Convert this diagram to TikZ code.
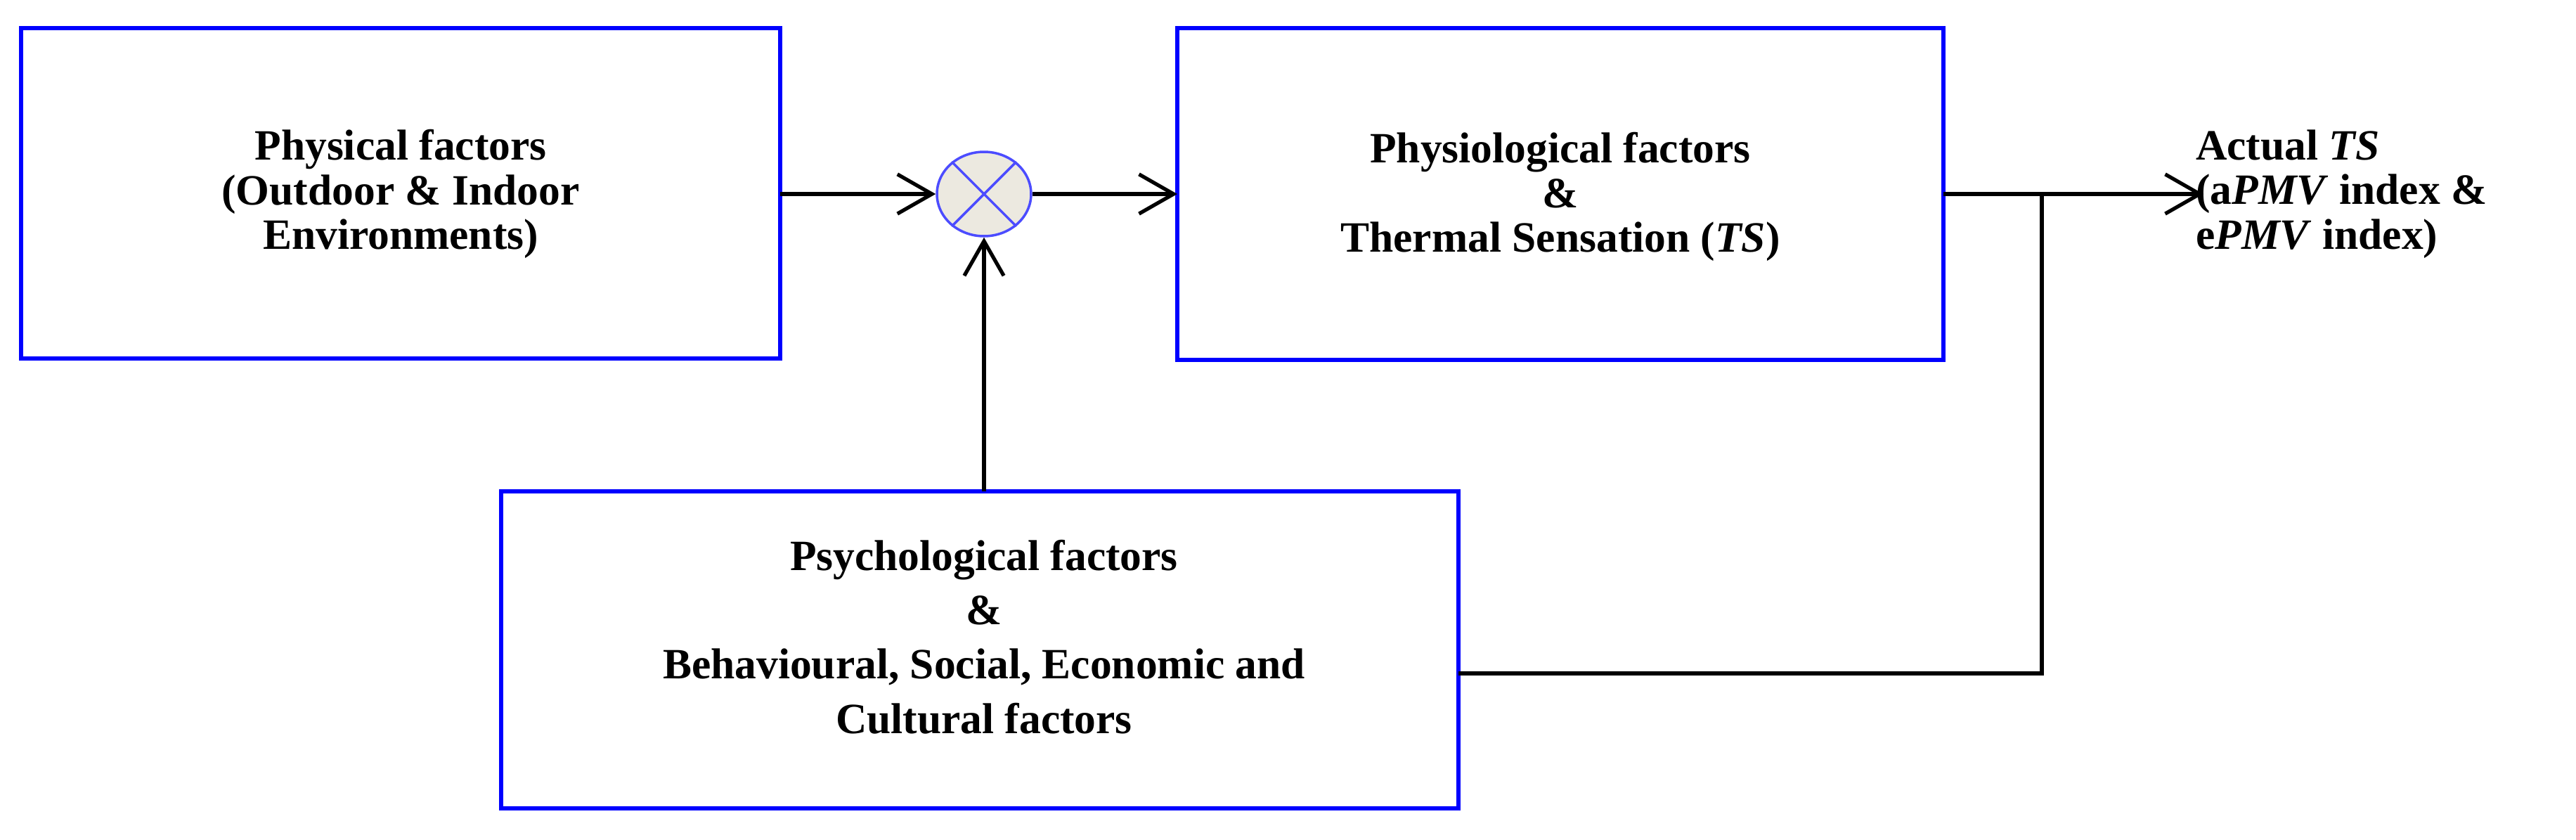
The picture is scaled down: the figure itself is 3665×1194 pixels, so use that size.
\documentclass[tikz,border=0pt]{standalone}
\usepackage{fontspec}
\setmainfont{Liberation Serif}
\usetikzlibrary{shapes.geometric,arrows.meta}
\definecolor{cfill}{RGB}{236,233,224}
\begin{document}
\begin{tikzpicture}[x=0.02cm,y=-0.02cm,
  box/.style={draw=blue,line width=3.4pt,inner sep=0pt},
  lbl/.style={font=\fontsize{35}{36}\selectfont\bfseries,align=center},
  conn/.style={line width=3pt,black},
  arr/.style={conn,-{Straight Barb[length=28pt,width=32pt,line width=3pt]}}]
\useasboundingbox (0,0) rectangle (3665,1194);
\draw[box] (30,40) rectangle (1110,510);
\node[lbl] (t1) at (570,276) {Physical factors\\(Outdoor \& Indoor\\Environments)};
\draw[box] (1675,40) rectangle (2765,512);
\node[lbl] (t2) at (2220,280) {Physiological factors\\\&\\Thermal Sensation (\textit{TS})};
\draw[box] (713,699) rectangle (2075,1150);
\node[lbl,font=\fontsize{35}{44}\selectfont\bfseries] (t3) at (1400,906) {Psychological factors\\\&\\Behavioural, Social, Economic and\\Cultural factors};
\coordinate (b1r) at (1110,276);
\coordinate (b2l) at (1675,276);
\coordinate (b2r) at (2765,276);
\coordinate (b3t) at (1400,699);
\coordinate (b3r) at (2075,958);
\coordinate (j) at (2905,276);
\coordinate (jb) at (2905,958);
\coordinate (out) at (3135,276);
\node[ellipse,draw=blue!70,line width=2pt,fill=cfill,minimum width=2.68cm,minimum height=2.4cm,inner sep=0pt] (c) at (1400,276) {};
\draw[blue!70,line width=2pt] (c.135) -- (c.-45) (c.45) -- (c.-135);
\draw[arr] (b1r) -- (c.west);
\draw[arr] (c.east) -- (b2l);
\draw[arr] (b3t) -- (c.south);
\draw[arr] (b2r) -- (out);
\draw[conn] (j) -- (jb) -- (b3r);
\node[lbl,align=left,anchor=west] (t4) at (3118,276) {Actual \textit{TS}\\(a\textit{PMV} index \&\\e\textit{PMV} index)};
\end{tikzpicture}
\end{document}
